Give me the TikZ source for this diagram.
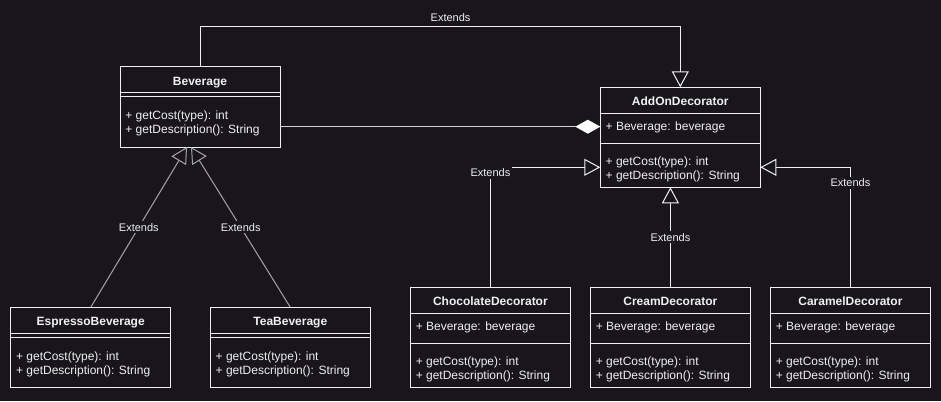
\documentclass[tikz,border=0pt]{standalone}
\usepackage{fontspec}
\setmainfont{Liberation Sans}
\usetikzlibrary{arrows.meta,calc}
\definecolor{bgc}{RGB}{24,21,29}
\definecolor{fg}{RGB}{240,240,240}
\definecolor{dimline}{RGB}{165,165,165}
\definecolor{compline}{RGB}{210,210,210}
\tikzset{
  cbox/.style={draw=fg, fill=bgc, line width=1pt, minimum width=160pt, anchor=north west, inner sep=0pt, outer sep=0pt},
  sepline/.style={draw=fg, line width=1pt},
  ctitle/.style={anchor=base, inner sep=0pt, text=fg, font=\fontsize{12}{14}\selectfont\bfseries},
  ctext/.style={anchor=base west, inner sep=0pt, text=fg, font=\fontsize{12}{14}\selectfont},
  conn/.style={draw=fg, line width=1pt},
  dimconn/.style={draw=dimline, line width=1pt},
  inh/.style={-{Triangle[open, length=16pt, width=17pt]}},
  lbl/.style={fill=bgc, text=fg, inner sep=2pt, font=\fontsize{11}{13}\selectfont},
}
\newcommand{\umlbasic}[4]{%
  \node[cbox, minimum height=80pt] (#1) at (#2,#3) {};
  \draw[sepline] (#2,#3+26) -- (#2+160,#3+26);
  \draw[sepline] (#2,#3+30) -- (#2+160,#3+30);
  \node[ctitle] (#1-t) at (#2+80,#3+18.3) {#4};
  \node[ctext] (#1-m1) at (#2+5.2,#3+52.8) {+ getCost(type): int};
  \node[ctext] (#1-m2) at (#2+5.2,#3+66.8) {+ getDescription(): String};
}
\newcommand{\umldeco}[4]{%
  \node[cbox, minimum height=100pt] (#1) at (#2,#3) {};
  \draw[sepline] (#2,#3+26) -- (#2+160,#3+26);
  \draw[sepline] (#2,#3+56) -- (#2+160,#3+56);
  \node[ctitle] (#1-t) at (#2+80,#3+18.3) {#4};
  \node[ctext] (#1-a) at (#2+5.2,#3+43.3) {+ Beverage: beverage};
  \coordinate (#1-attr) at (#2,#3+39.4);
  \coordinate (#1-meth) at (#2,#3+80);
  \node[ctext] (#1-m1) at (#2+5.2,#3+78.2) {+ getCost(type): int};
  \node[ctext] (#1-m2) at (#2+5.2,#3+92.2) {+ getDescription(): String};
}
\begin{document}
\begin{tikzpicture}[x=1pt, y=-1pt]
  \useasboundingbox (0,0) rectangle (941,401);
  \fill[bgc] (0,0) rectangle (941,401);

  \umlbasic{bev}{120}{67}{Beverage}
  \umlbasic{esp}{10.7}{307.3}{EspressoBeverage}
  \umlbasic{tea}{210.3}{307.3}{TeaBeverage}
  \umldeco{add}{600.3}{87.3}{AddOnDecorator}
  \umldeco{choc}{410.4}{287.3}{ChocolateDecorator}
  \umldeco{cream}{590.4}{287.3}{CreamDecorator}
  \umldeco{car}{770.4}{287.3}{CaramelDecorator}

  % Beverage -> AddOnDecorator (top)
  \draw[conn, inh] (bev.north) -- ++(0,-40) -| (add.north);
  \node[lbl] (l-top) at (450.6,17.2) {Extends};

  % composition
  \draw[draw=compline, line width=1pt, -{Diamond[length=25pt, width=14pt, color=white, fill=white]}] (bev.east |- add-attr) -- (add-attr);

  % Espresso / Tea
  \draw[dimconn, inh] (esp.north) -- ($(bev.south)+(-13,0)$) node[lbl, midway] (l-esp) {Extends};
  \draw[dimconn, inh] (tea.north) -- ($(bev.south)+(-9,0)$) node[lbl, midway] (l-tea) {Extends};

  % Decorators
  \draw[conn, inh] (choc.north) |- (add-meth);
  \node[lbl] (l-choc) at ($(choc.north |- add-meth)+(0,5.5)$) {Extends};
  \draw[conn, inh] (cream.north) -- (cream.north |- add.south) node[lbl, midway] (l-cream) {Extends};
  \draw[conn, inh] (car.north) |- (add.east |- add-meth);
  \node[lbl] (l-car) at ($(car.north |- add-meth)+(0,15.5)$) {Extends};
\end{tikzpicture}
\end{document}
